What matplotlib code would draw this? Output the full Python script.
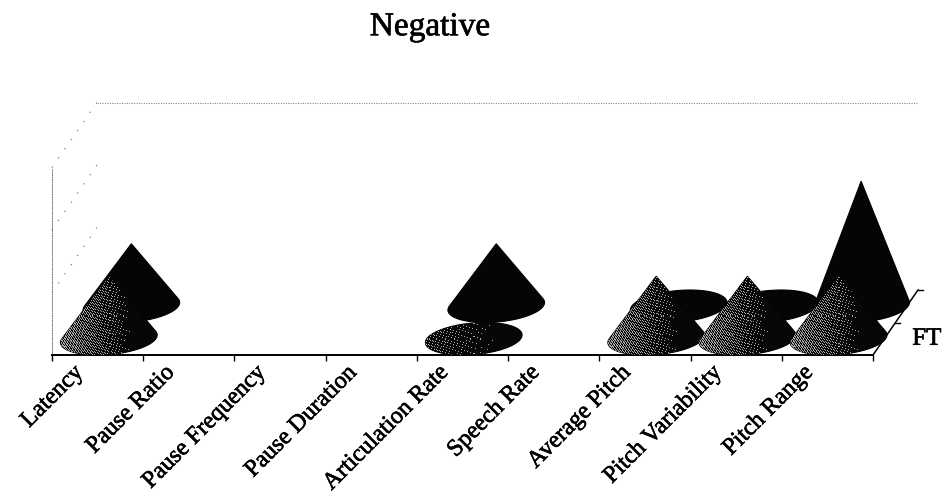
import numpy as np
import matplotlib
matplotlib.use('Agg')
import matplotlib.pyplot as plt
import matplotlib.patheffects as pe
from matplotlib.patches import Polygon

plt.rcParams['font.family'] = ['Liberation Serif', 'DejaVu Serif']

categories = ['Latency', 'Pause Ratio', 'Pause Frequency', 'Pause Duration', 'Articulation Rate',
              'Speech Rate', 'Average Pitch', 'Pitch Variability', 'Pitch Range']
nan = np.nan
front_values = [1, nan, nan, nan, 0, nan, 1, 1, 1]
back_values = [1, nan, nan, nan, 1, nan, 0, 0, 2]
series_label = 'FT'
title = 'Negative'
value_ticks = [1, 2, 3]

# oblique projection of the depth axis, in category and value units
DX = 0.493
DY = 1.04
RX = 0.515
heavy = [pe.withStroke(linewidth=0.45, foreground='black')]


def project(x, depth, value):
    return x + depth * DX, value + depth * DY


def cone_outline(cat, depth, value):
    cx, cy = project(cat + 0.5, depth, 0)
    t = np.linspace(0, 2 * np.pi, 180, endpoint=False)
    ex = cx + RX * np.cos(t) + 0.25 * DX * np.sin(t)
    ey = cy + 0.25 * DY * np.sin(t)
    if value == 0:
        return np.column_stack([ex, ey])
    ax_, ay_ = cx, cy + value
    ang = np.arctan2(ey - ay_, ex - ax_)
    a, b = int(np.argmin(ang)), int(np.argmax(ang))
    idx = np.arange(a, a + (b - a) % len(t) + 1) % len(t)
    return np.vstack([[ax_, ay_], np.column_stack([ex[idx], ey[idx]])])


def stipple(w, h, strength):
    # irregular halftone that fades out towards the right of the cone
    u = np.linspace(0, 1, w)
    level = np.clip(strength * (1 - u / 0.72), 0, 1)
    yy, xx = np.indices((h, w))
    thresh = (52.9829189 * ((0.06711056 * xx + 0.00583715 * yy) % 1)) % 1
    return np.where(level[xx] > thresh, 0.66, 0.03)


fig = plt.figure(figsize=(9.43, 4.97), dpi=100)
ax = fig.add_axes([52 / 943, 142 / 497, 821 / 943, 187.5 / 497])
ax.set_xlim(0, 9)
ax.set_ylim(0, 3)
for side in ['top', 'right']:
    ax.spines[side].set_visible(False)
ax.spines['bottom'].set_linewidth(1.4)
ax.spines['left'].set_linestyle((0, (1, 1.5)))
ax.spines['left'].set_color('#777777')
ax.spines['left'].set_linewidth(0.7)
ax.set_xticks(range(10))
ax.set_yticks([])
ax.tick_params(axis='x', length=4, width=1, labelbottom=False)

# walls
for v in value_ticks:
    x1, y1 = project(0, 1, v)
    ax.plot([0, x1], [v, y1], color='#666666', lw=0.8, ls=(0, (1, 9)), clip_on=False)
x1, y1 = project(0, 1, 3)
ax.plot([x1, 9 + DX], [y1, y1], color='#888888', lw=0.8, ls=(0, (1, 1.2)), clip_on=False)

# depth axis on the right
x1, y1 = project(9, 1, 0)
ax.plot([9, x1], [0, y1], color='black', lw=1.1, clip_on=False)
for d in [0.5, 1]:
    xt, yt = project(9, d, 0)
    ax.plot([xt, xt + 0.05], [yt, yt], color='black', lw=1, clip_on=False)
xt, yt = project(9, 0.25, 0)
ax.annotate(series_label, (xt, yt), xytext=(28, 0), textcoords='offset pixels', ha='left', va='center',
            fontsize=18, annotation_clip=False, path_effects=heavy)

z = 3
# back row is solid, front row carries the shading
for row, vals in [(0.75, back_values), (0.25, front_values)]:
    for i, v in enumerate(vals):
        if np.isnan(v):
            continue
        pts = cone_outline(i, row, v)
        poly = Polygon(pts, closed=True, fc='#050505', ec='black', lw=0.8, zorder=z, clip_on=False)
        ax.add_patch(poly)
        z += 1
        if row < 0.5:
            x0, x2 = pts[:, 0].min(), pts[:, 0].max()
            y0, y2 = pts[:, 1].min(), pts[:, 1].max()
            w = int((x2 - x0) * 91.2)
            h = int((y2 - y0) * 62.5)
            strength = 0.6 if v > 0 else 0.2
            im = ax.imshow(stipple(w, h, strength), extent=[x0, x2, y0, y2], cmap='gray', vmin=0, vmax=1,
                           aspect='auto', interpolation='nearest', zorder=z, clip_on=True)
            im.set_clip_path(poly)
            z += 1
ax.set_xlim(0, 9)
ax.set_ylim(0, 3)

for i, name in enumerate(categories):
    ax.annotate(name, (i + 0.5, 0), xytext=(-25, -7), textcoords='offset pixels', rotation=45,
                rotation_mode='anchor', ha='right', va='top', fontsize=17.3, annotation_clip=False,
                path_effects=heavy)

fig.text(430 / 943, 1 - 27 / 497, title, ha='center', va='center', fontsize=24, path_effects=heavy)
fig.savefig('out.png', dpi=100)
